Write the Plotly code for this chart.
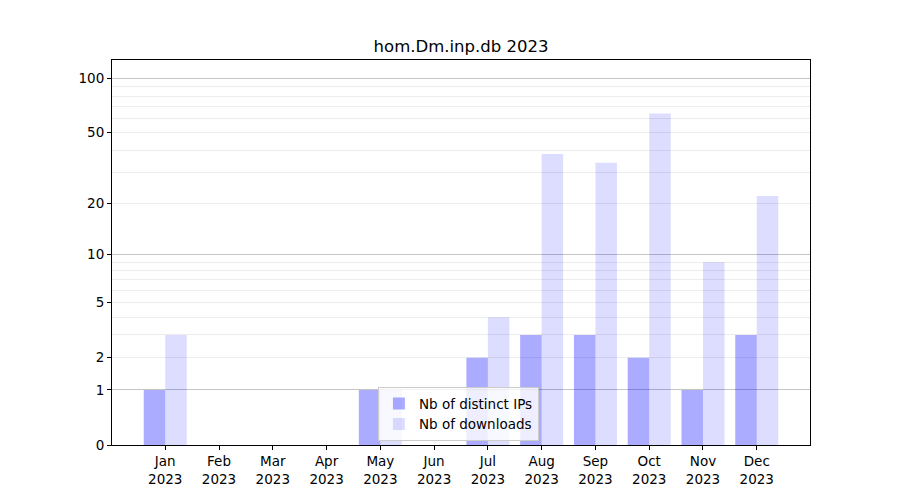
import numpy as np
import plotly.graph_objects as go

months = ["Jan", "Feb", "Mar", "Apr", "May", "Jun", "Jul", "Aug", "Sep", "Oct", "Nov", "Dec"]
year = "2023"
distinct_ips = [1, 0, 0, 0, 1, 0, 2, 3, 3, 2, 1, 3]
downloads = [3, 0, 0, 0, 1, 0, 4, 38, 34, 64, 9, 22]
ytick_values = [0, 1, 2, 5, 10, 20, 50, 100]
minor_values = [3, 4, 6, 7, 8, 9, 30, 40, 60, 70, 80, 90]
dark_grid_values = [1, 10, 100]


def fscale(v):
    return np.log10(1 + np.asarray(v, dtype=float))


x = list(range(len(months)))
xlabels = [f"{m}<br>{year}" for m in months]

fig = go.Figure()
fig.add_trace(go.Bar(
    x=x, y=fscale(distinct_ips), name="Nb of distinct IPs",
    marker=dict(color="rgba(0,0,255,0.33)", line=dict(width=0)),
    offsetgroup="a",
))
fig.add_trace(go.Bar(
    x=x, y=fscale(downloads), name="Nb of downloads",
    marker=dict(color="rgba(0,0,255,0.135)", line=dict(width=0)),
    offsetgroup="b",
))

yrange = [0, float(fscale(126.5))]
font = dict(family="DejaVu Sans", size=13.5, color="black")

fig.update_layout(
    width=900, height=500,
    margin=dict(l=104, r=98, t=52, b=63),
    paper_bgcolor="white", plot_bgcolor="white",
    barmode="group", bargap=0.2, bargroupgap=0,
    font=font,
    title=dict(text="hom.Dm.inp.db 2023", x=(461 - 8) / 900, xanchor="center",
               y=1 - 38 / 500, yanchor="middle",
               font=dict(family="DejaVu Sans", size=16.5, color="black")),
    showlegend=True,
    legend=dict(x=0.381, y=0.01, xanchor="left", yanchor="bottom",
                bgcolor="rgba(255,255,255,0.8)", bordercolor="#cccccc",
                borderwidth=1, font=dict(family="DejaVu Sans", size=13.5),
                traceorder="normal", itemwidth=30),
    xaxis=dict(
        tickmode="array", tickvals=x, ticktext=xlabels,
        range=[-0.99, 11.99], showgrid=False, zeroline=False,
        showline=True, linecolor="black", linewidth=1, mirror=True,
        ticks="outside", ticklen=4, tickcolor="black",
        tickfont=font,
    ),
    yaxis=dict(
        tickmode="array", tickvals=fscale(ytick_values),
        ticktext=[str(v) for v in ytick_values],
        range=yrange, showgrid=True, gridcolor="#ececec", gridwidth=1,
        zeroline=False,
        showline=True, linecolor="black", linewidth=1, mirror=True,
        ticks="outside", ticklen=4, tickcolor="black",
        tickfont=font,
        minor=dict(tickmode="array", tickvals=fscale(minor_values),
                   showgrid=True, gridcolor="#ececec", gridwidth=1, ticks=""),
    ),
    yaxis2=dict(
        overlaying="y", side="left", range=yrange,
        tickmode="array", tickvals=fscale(dark_grid_values),
        showticklabels=False, ticks="", showgrid=True,
        gridcolor="#c4c4c4", gridwidth=1, zeroline=False, showline=False,
    ),
)

# invisible trace to activate yaxis2
fig.add_trace(go.Scatter(x=[x[0]], y=[0], yaxis="y2", mode="markers",
                         marker=dict(opacity=0), showlegend=False,
                         hoverinfo="skip"))

fig.write_html("out.html")
